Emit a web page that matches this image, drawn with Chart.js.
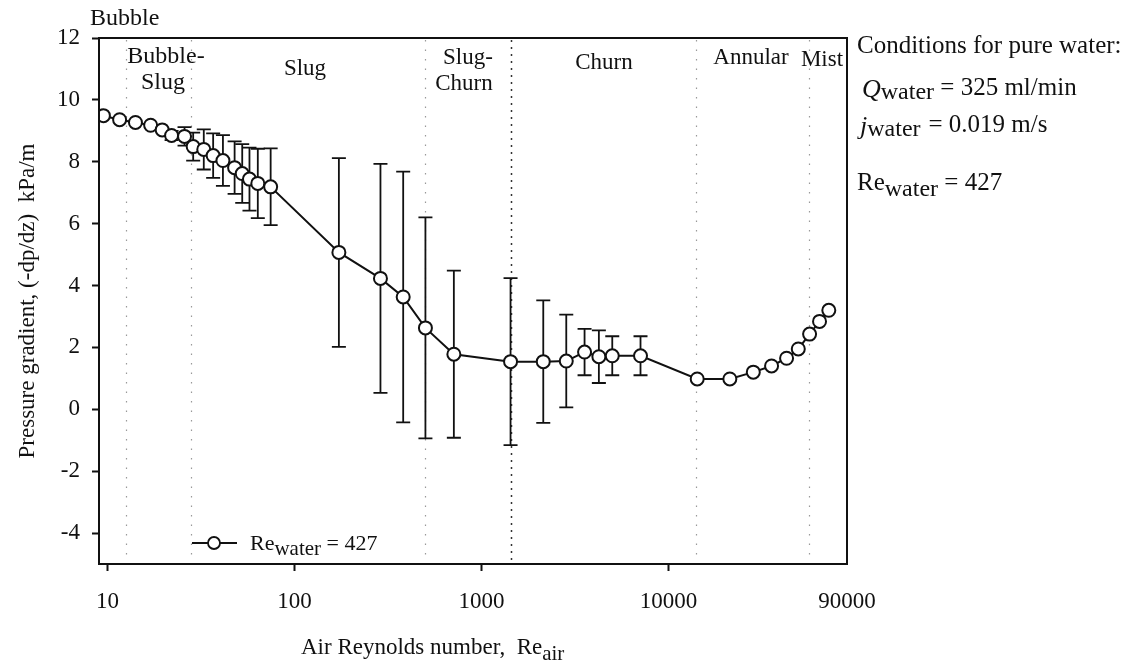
<!DOCTYPE html>
<html>
<head>
<meta charset="utf-8">
<script src="https://cdn.jsdelivr.net/npm/chart.js@4.4.0/dist/chart.umd.min.js"></script>
<style>
  html, body { margin: 0; padding: 0; background: #fff; }
</style>
</head>
<body>
<canvas id="myChart" width="1129" height="665"></canvas>
<script>
// air Reynolds number and measured pressure gradient (kPa/m)
var reAir = [9.5, 11.6, 14.1, 17.0, 19.6, 22.0, 25.8, 28.7, 32.7, 36.7, 41.4, 47.8, 52.5, 57.4, 63.6, 74.5,
  172.6, 288, 381, 501, 711, 1429, 2138, 2838, 3555, 4240, 5000, 7080,
  14230, 21270, 28390, 35550, 42770, 49400, 56780, 64170, 71940];
var dpdz = [9.49, 9.36, 9.27, 9.18, 9.03, 8.85, 8.82, 8.49, 8.40, 8.20, 8.04, 7.81, 7.62, 7.44, 7.30, 7.19,
  5.07, 4.23, 3.63, 2.63, 1.78, 1.54, 1.54, 1.56, 1.85, 1.70, 1.73, 1.73,
  0.98, 0.98, 1.20, 1.40, 1.65, 1.95, 2.43, 2.84, 3.20];
// +/- error on each point
var errBar = [0, 0, 0, 0, 0, 0.15, 0.3, 0.45, 0.65, 0.72, 0.82, 0.85, 0.95, 1.02, 1.12, 1.24,
  3.05, 3.7, 4.05, 3.57, 2.7, 2.7, 1.98, 1.5, 0.75, 0.85, 0.63, 0.63,
  0, 0, 0, 0, 0, 0, 0, 0, 0];

// flow regime boundaries
var boundaries = [12.5, 27.8, 501, 1429, 14100, 56700];

var xTicks = [10, 100, 1000, 10000, 90000];
var yTicks = [-4, -2, 0, 2, 4, 6, 8, 10, 12];

var serif = '"Liberation Serif", "Times New Roman", serif';
Chart.defaults.font.family = serif;
Chart.defaults.color = '#111';

function setFont(ctx, size, style) {
  ctx.font = (style || '') + ' ' + size + 'px ' + serif;
}

// draws text pieces one after another: [text, size, dy, italic]
function richText(ctx, x, y, parts) {
  parts.forEach(function (p) {
    setFont(ctx, p[1], p[3] ? 'italic' : '');
    ctx.fillText(p[0], x, y + (p[2] || 0));
    x += ctx.measureText(p[0]).width;
  });
  return x;
}

// error bars and regime lines, under the points
var underlay = {
  id: 'underlay',
  beforeDatasetsDraw: function (chart) {
    var ctx = chart.ctx;
    var xs = chart.scales.x, ys = chart.scales.y;
    var area = chart.chartArea;
    ctx.save();
    // dotted boundaries
    boundaries.forEach(function (b) {
      var px = Math.round(xs.getPixelForValue(b)) + 0.5;
      ctx.beginPath();
      if (b == 1429) {
        ctx.strokeStyle = '#333';
        ctx.setLineDash([2, 5]);
        ctx.lineWidth = 1.5;
      } else {
        ctx.strokeStyle = '#999';
        ctx.setLineDash([1.5, 8]);
        ctx.lineWidth = 1.2;
      }
      ctx.moveTo(px, area.top + 2);
      ctx.lineTo(px, area.bottom - 2);
      ctx.stroke();
    });
    ctx.setLineDash([]);
    // error bars
    ctx.strokeStyle = '#111';
    ctx.lineWidth = 1.8;
    for (var i = 0; i < reAir.length; i++) {
      if (!errBar[i]) continue;
      var px = xs.getPixelForValue(reAir[i]);
      var top = ys.getPixelForValue(dpdz[i] + errBar[i]);
      var bot = ys.getPixelForValue(dpdz[i] - errBar[i]);
      ctx.beginPath();
      ctx.moveTo(px, top); ctx.lineTo(px, bot);
      ctx.moveTo(px - 7, top); ctx.lineTo(px + 7, top);
      ctx.moveTo(px - 7, bot); ctx.lineTo(px + 7, bot);
      ctx.stroke();
    }
    ctx.restore();
  }
};

// frame, regime names, legend, notes and x title
var overlay = {
  id: 'overlay',
  afterDraw: function (chart) {
    var ctx = chart.ctx;
    var area = chart.chartArea;
    ctx.save();
    ctx.strokeStyle = '#111';
    ctx.lineWidth = 2;
    ctx.strokeRect(area.left, area.top, area.right - area.left, area.bottom - area.top);

    ctx.fillStyle = '#111';
    ctx.textBaseline = 'alphabetic';

    // regime labels
    ctx.textAlign = 'left';
    setFont(ctx, 24);
    ctx.fillText('Bubble', 90, 25);
    ctx.textAlign = 'center';
    ctx.fillText('Bubble-', 166, 63);
    ctx.fillText('Slug', 163, 89);
    setFont(ctx, 23);
    ctx.fillText('Slug', 305, 75);
    ctx.fillText('Slug-', 468, 64);
    ctx.fillText('Churn', 464, 90);
    ctx.fillText('Churn', 604, 69);
    ctx.fillText('Annular', 751, 64);
    ctx.fillText('Mist', 822, 66);

    // conditions
    ctx.textAlign = 'left';
    setFont(ctx, 25);
    ctx.fillText('Conditions for pure water:', 857, 53);
    richText(ctx, 862, 97, [['Q', 26, 0, true], ['water', 24, 2], [' = 325 ml/min', 25, -2]]);
    var jx = richText(ctx, 860, 134, [['j', 26, 0, true], ['water', 24, 2]]);
    richText(ctx, jx + 8, 132, [['= 0.019 m/s', 25, 0]]);
    richText(ctx, 857, 190, [['Re', 25, 0], ['water', 24, 6], [' = 427', 25, 0]]);

    // legend
    ctx.lineWidth = 1.8;
    ctx.beginPath();
    ctx.moveTo(192, 543); ctx.lineTo(237, 543);
    ctx.stroke();
    ctx.beginPath();
    ctx.arc(214, 543, 6, 0, Math.PI * 2);
    ctx.fillStyle = '#fff';
    ctx.fill();
    ctx.stroke();
    ctx.fillStyle = '#111';
    richText(ctx, 250, 550, [['Re', 22, 0], ['water', 21, 5], [' = 427', 22, 0]]);

    // x axis title
    richText(ctx, 301, 654, [['Air Reynolds number,  Re', 23, 0], ['air', 21, 6]]);
    ctx.restore();
  }
};

var ctx = document.getElementById('myChart').getContext('2d');
var points = reAir.map(function (x, i) { return { x: x, y: dpdz[i] }; });

var myChart = new Chart(ctx, {
  type: 'line',
  data: {
    datasets: [{
      label: 'Re water = 427',
      data: points,
      borderColor: '#111',
      borderWidth: 2,
      pointRadius: 6.5,
      pointBorderWidth: 2,
      pointBackgroundColor: '#fff',
      pointBorderColor: '#111',
      tension: 0,
      fill: false
    }]
  },
  options: {
    responsive: false,
    animation: false,
    layout: { padding: { left: 0, right: 282, top: 38, bottom: 0 } },
    plugins: {
      legend: { display: false },
      tooltip: { enabled: false }
    },
    scales: {
      x: {
        type: 'logarithmic',
        min: 9,
        max: 90000,
        afterBuildTicks: function (scale) {
          scale.ticks = xTicks.map(function (v) { return { value: v }; });
        },
        afterFit: function (scale) { scale.height = 101; },
        ticks: {
          autoSkip: false,
          maxRotation: 0,
          padding: 17,
          color: '#111',
          font: { size: 23 },
          callback: function (v) { return String(v); }
        },
        grid: {
          drawOnChartArea: false,
          drawTicks: true,
          tickLength: 7,
          tickWidth: 2,
          tickColor: function (c) { return c.tick && c.tick.value == 90000 ? 'rgba(0,0,0,0)' : '#111'; }
        },
        border: { display: false }
      },
      y: {
        min: -5,
        max: 12,
        afterBuildTicks: function (scale) {
          scale.ticks = yTicks.map(function (v) { return { value: v }; });
        },
        afterFit: function (scale) { scale.width = 99; },
        ticks: {
          padding: 12,
          color: '#111',
          font: { size: 23 }
        },
        grid: {
          drawOnChartArea: false,
          drawTicks: true,
          tickLength: 7,
          tickWidth: 2,
          tickColor: '#111'
        },
        border: { display: false },
        title: {
          display: true,
          text: 'Pressure gradient, (-dp/dz)  kPa/m',
          color: '#111',
          font: { size: 23 },
          padding: { top: 14, bottom: 0 }
        }
      }
    }
  },
  plugins: [underlay, overlay]
});
</script>
</body>
</html>
